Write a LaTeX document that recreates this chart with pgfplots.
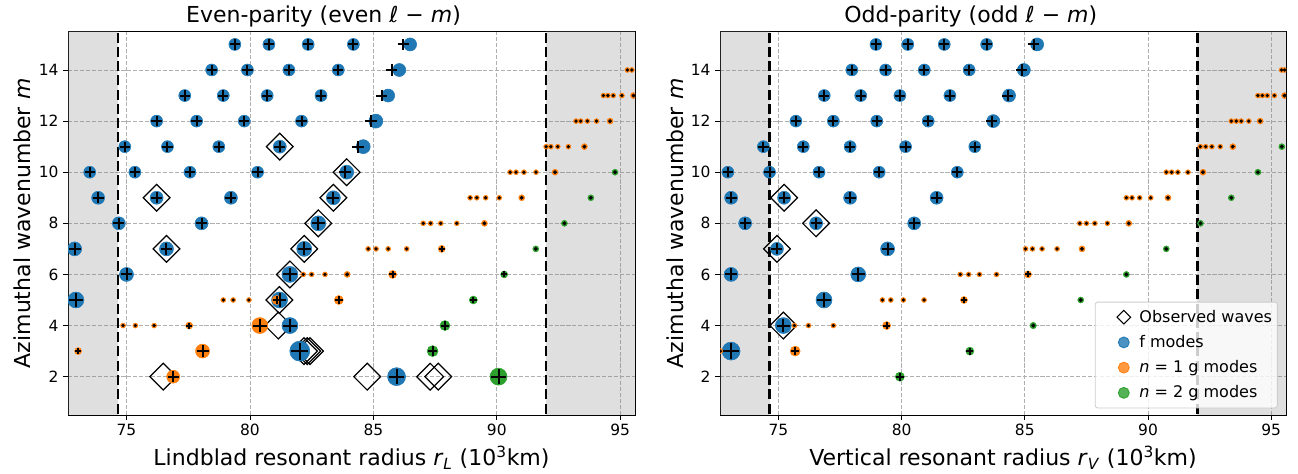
\documentclass[border=0pt]{standalone}
\usepackage{fontspec}
\setmainfont{DejaVu Sans}
\usepackage{pgfplots}
\usepackage{pgfplotstable}
\pgfplotsset{compat=1.18}

\definecolor{fblue}{HTML}{1F77B4}
\definecolor{gorange}{HTML}{FF7F0E}
\definecolor{ggreen}{HTML}{2CA02C}
\definecolor{gridgray}{HTML}{B0B0B0}
\definecolor{legframe}{HTML}{CCCCCC}

% ---------------- Lindblad resonances (even l-m) ----------------
% x: radius (1000 km), y: m, r: marker radius, p: radius of the model cross
\pgfplotstableread{
x y r p
79.39 15 6 79.39
80.77 15 6 80.77
82.36 15 6 82.36
84.19 15 6 84.19
86.49 15 6.5 86.21
78.45 14 6 78.45
79.90 14 6 79.90
81.58 14 6 81.58
83.58 14 6 83.58
86.05 14 6.5 85.74
77.36 13 6 77.36
78.92 13 6 78.92
80.70 13 6 80.70
82.88 13 6 82.88
85.60 13 6.5 85.34
76.22 12 6 76.22
77.84 12 6 77.84
79.77 12 6 79.77
82.09 12 6 82.09
85.10 12 7 84.89
74.93 11 6 74.93
76.66 11 6 76.66
78.74 11 6 78.74
81.21 11 6.5 81.21
84.59 11 7 84.39
73.51 10 6 73.51
75.34 10 6 75.34
77.57 10 6 77.57
80.31 10 6 80.31
83.92 10 7 83.85
73.85 9 6.5 73.85
76.22 9 6.5 76.22
79.23 9 6.5 79.23
83.38 9 7 83.38
74.69 8 6.5 74.69
78.04 8 6.5 78.04
82.77 8 7.5 82.77
72.90 7 7 72.90
76.62 7 7 76.62
82.20 7 7.5 82.20
75.00 6 7 75.00
81.62 6 8 81.62
72.95 5 8 72.95
81.20 5 8 81.20
81.62 4 8 81.62
82.02 3 10 82.02
85.94 2 9 85.94
}\fL

% n=1 g modes, strong (marked with a cross)
\pgfplotstableread{
x y r
87.77 7 3.5
85.78 6 4
81.08 5 4.5
83.60 5 4.5
77.54 4 3.5
80.40 4 8
73.04 3 3.5
78.08 3 7
76.89 2 6.5
}\gaLs

% n=1 g modes, weak (marked with a dot)
\pgfplotstableread{
x y r
95.29 14 2.5
95.47 14 2.5
94.32 13 2.5
94.50 13 2.5
94.72 13 2.5
95.07 13 2.5
95.54 13 3
93.21 12 2.5
93.40 12 2.5
93.67 12 2.5
94.04 12 2.5
94.59 12 3
92.00 11 2.5
92.19 11 2.5
92.47 11 2.5
92.90 11 2.5
93.55 11 3
90.54 10 2.5
90.78 10 2.5
91.10 10 2.5
91.59 10 2.5
92.36 10 3
88.92 9 2.5
89.19 9 2.5
89.55 9 2.5
90.10 9 2.5
91.01 9 3
87.02 8 2.5
87.32 8 2.5
87.73 8 2.5
88.38 8 2.5
89.50 8 3
84.79 7 2.5
85.11 7 2.5
85.60 7 2.5
86.35 7 2.5
82.16 6 2.5
82.50 6 2.5
83.04 6 2.5
83.94 6 3
78.92 5 2.5
79.32 5 2.5
79.96 5 2.5
74.86 4 2.5
75.36 4 2.5
76.12 4 2.5
}\gaLw

\pgfplotstableread{
x y r
90.07 2 8.5
87.40 3 5.5
87.90 4 5
89.05 5 4
90.30 6 3.5
}\gbLs

\pgfplotstableread{
x y r
91.58 7 3
92.74 8 3
93.81 9 3
94.79 10 3
}\gbLw

\pgfplotstableread{
x y
81.21 11
83.92 10
76.22 9
83.38 9
82.77 8
76.62 7
82.20 7
81.62 6
81.19 5
81.15 4
82.19 3
82.32 3
82.43 3
76.49 2
84.75 2
87.30 2
87.63 2
}\obsL

% ---------------- vertical resonances (odd l-m) ----------------
\pgfplotstableread{
x y r p
78.96 15 6 78.96
80.25 15 6 80.25
81.73 15 6 81.73
83.45 15 6 83.45
85.50 15 6.5 85.36
77.98 14 6 77.98
79.35 14 6 79.35
80.92 14 6 80.92
82.74 14 6 82.74
84.96 14 6.5 84.87
76.86 13 6 76.86
78.34 13 6 78.34
79.93 13 6 79.93
81.96 13 6 81.96
84.36 13 6.5 84.30
75.71 12 6 75.71
77.23 12 6 77.23
78.99 12 6 78.99
81.08 12 6 81.08
83.72 12 6.5 83.65
74.39 11 6 74.39
76.01 11 6 76.01
77.91 11 6 77.91
80.16 11 6 80.16
82.97 11 6 82.97
72.95 10 6 72.95
74.64 10 6 74.64
76.65 10 6 76.65
79.09 10 6 79.09
82.26 10 6 82.26
73.08 9 6.5 73.08
75.23 9 6.5 75.23
77.91 9 6.5 77.91
81.42 9 6.5 81.42
73.65 8 6.5 73.65
76.53 8 6.5 76.53
80.51 8 6.5 80.51
74.94 7 6.5 74.94
79.43 7 7 79.43
73.08 6 7 73.08
78.24 6 7.5 78.24
76.85 5 8 76.85
75.20 4 8 75.20
73.08 3 9 73.08
}\fV

\pgfplotstableread{
x y r
85.13 6 3.5
82.53 5 3.5
79.39 4 4
75.68 3 5
}\gaVs

\pgfplotstableread{
x y r
95.42 14 2.5
95.54 14 2.5
94.46 13 2.5
94.64 13 2.5
94.84 13 2.5
95.13 13 2.5
95.54 13 3
93.38 12 2.5
93.58 12 2.5
93.78 12 2.5
94.09 12 2.5
94.55 12 3
92.12 11 2.5
92.34 11 2.5
92.59 11 2.5
92.93 11 2.5
93.44 11 3
90.74 10 2.5
90.96 10 2.5
91.21 10 2.5
91.62 10 2.5
92.23 10 3
89.12 9 2.5
89.35 9 2.5
89.66 9 2.5
90.11 9 2.5
90.81 9 3
87.23 8 2.5
87.50 8 2.5
87.84 8 2.5
88.35 8 2.5
89.22 8 3
85.03 7 2.5
85.31 7 2.5
85.70 7 2.5
86.31 7 2.5
87.32 7 3
82.38 6 2.5
82.72 6 2.5
83.16 6 2.5
83.85 6 2.5
79.22 5 2.5
79.56 5 2.5
80.07 5 2.5
80.91 5 2.5
75.65 4 2.5
76.22 4 2.5
77.23 4 2.5
72.64 3 2.5
}\gaVw

\pgfplotstableread{
x y r
79.93 2 4.5
82.77 3 4
}\gbVs

\pgfplotstableread{
x y r
85.34 4 3.2
87.27 5 3
89.12 6 3
90.74 7 3
92.13 8 3
93.38 9 3
94.46 10 3
95.43 11 3
}\gbVw

\pgfplotstableread{
x y
75.23 9
76.53 8
74.94 7
75.20 4
}\obsV

\pgfplotsset{
  % filled circle whose radius is read from column r
  disc/.style={scatter, only marks, mark=*, forget plot, point meta=y,
    scatter/use mapped color={draw=#1, fill=#1},
    visualization depends on={0.75*\thisrow{r} \as \msz},
    scatter/@pre marker code/.append style={/tikz/mark size=\msz}},
  % black cross scaled with the mode's marker
  cross/.style={scatter, only marks, mark=+, forget plot, point meta=y,
    scatter/use mapped color={draw=black, fill=black},
    mark options={line width=1.5pt},
    visualization depends on={0.64*\thisrow{r} \as \msz},
    scatter/@pre marker code/.append style={/tikz/mark size=\msz}},
  % small black centre for the weakest modes
  dot/.style={scatter, only marks, mark=*, forget plot, point meta=y,
    scatter/use mapped color={draw=black, fill=black},
    visualization depends on={0.41*\thisrow{r} \as \msz},
    scatter/@pre marker code/.append style={/tikz/mark size=\msz}},
  observed/.style={only marks, mark=square, mark size=7.1pt, forget plot,
    mark options={rotate=45, line width=0.9pt, draw=black, solid}},
  span/.style={fill=gray, fill opacity=0.25, draw=none, forget plot},
  limit/.style={black, line width=2pt, dash pattern=on 7.5pt off 3.2pt, forget plot},
  panel/.style={
    scale only axis, height=287.5pt,
    xmin=72.63, xmax=95.6, ymin=0.5, ymax=15.5,
    xtick={75,80,85,90,95}, ytick={2,4,6,8,10,12,14},
    clip marker paths=true,
    grid=major,
    major grid style={draw=gridgray, line width=0.6pt, dash pattern=on 3.1pt off 1.35pt},
    axis line style={line width=0.6pt, black},
    tick align=outside, tick pos=left,
    major tick length=3.6pt,
    every tick/.style={black, line width=0.6pt},
    /pgf/number format/assume math mode=true,
    tick label style={font=\fontsize{11.6}{13.9}\selectfont},
    every axis x label/.style={at={(axis description cs:0.5,-0.133)}, anchor=base,
      font=\fontsize{16.5}{19.8}\selectfont},
    every axis y label/.style={at={(axis description cs:-0.0653,0.5)}, anchor=base, rotate=90,
      font=\fontsize{16.5}{19.8}\selectfont},
  },
  % legend symbol with room on both sides of the mark
  markentry/.style={legend image code/.code={%
    \path[draw=none, fill=none] (-19.5pt,-4pt) rectangle (9.7pt,4pt);
    \draw[##1] plot coordinates {(0pt,0pt)};}},
}

\begin{document}
\begin{tikzpicture}
\path[use as bounding box] (0,0) rectangle (973.5pt,355.5pt);

% ---------------- left panel ----------------
\begin{axis}[panel, at={(51pt,44.25pt)}, anchor=south west, width=425.25pt,
  title={Even-parity (even ℓ − \textit{m})},
  every axis title/.style={at={(axis description cs:0.4506,1.0235)}, anchor=base,
    font=\fontsize{16.5}{19.8}\selectfont},
  xlabel={Lindblad resonant radius \textit{r}\textsubscript{\textit{L}} (10\textsuperscript{3}km)},
  ylabel={Azimuthal wavenumber \textit{m}}]
\addplot[span] coordinates {(70,0) (74.65,0) (74.65,16) (70,16)} -- cycle;
\addplot[span] coordinates {(92.0,0) (98,0) (98,16) (92.0,16)} -- cycle;
\addplot[limit] coordinates {(74.65,0) (74.65,16)};
\addplot[limit] coordinates {(92.0,0) (92.0,16)};
\addplot[observed] table[x=x, y=y] {\obsL};
\addplot[disc=fblue] table[x=x, y=y] {\fL};
\addplot[disc=gorange] table[x=x, y=y] {\gaLw};
\addplot[disc=gorange] table[x=x, y=y] {\gaLs};
\addplot[disc=ggreen] table[x=x, y=y] {\gbLw};
\addplot[disc=ggreen] table[x=x, y=y] {\gbLs};
\addplot[cross] table[x=p, y=y] {\fL};
\addplot[cross] table[x=x, y=y] {\gaLs};
\addplot[cross] table[x=x, y=y] {\gbLs};
\addplot[dot] table[x=x, y=y] {\gaLw};
\addplot[dot] table[x=x, y=y] {\gbLw};
\end{axis}

% ---------------- right panel ----------------
\begin{axis}[panel, at={(540pt,44.25pt)}, anchor=south west, width=424.5pt,
  title={Odd-parity (odd ℓ − \textit{m})},
  every axis title/.style={at={(axis description cs:0.443,1.0235)}, anchor=base,
    font=\fontsize{16.5}{19.8}\selectfont},
  xlabel={Vertical resonant radius \textit{r}\textsubscript{\textit{V}} (10\textsuperscript{3}km)},
  ylabel={Azimuthal wavenumber \textit{m}},
  legend cell align=left,
  legend style={at={(axis description cs:1,0)}, anchor=south east, xshift=-6.2pt, yshift=5pt,
    draw=legframe, line width=0.6pt, fill=white, fill opacity=0.8, text opacity=1,
    draw opacity=1, rounded corners=2pt, font=\fontsize{12}{14.4}\selectfont,
    inner xsep=2pt, inner ysep=4pt, nodes={inner sep=2pt}, row sep=4.3pt}]
\addplot[span] coordinates {(70,0) (74.65,0) (74.65,16) (70,16)} -- cycle;
\addplot[span] coordinates {(92.0,0) (98,0) (98,16) (92.0,16)} -- cycle;
\addplot[limit] coordinates {(74.65,0) (74.65,16)};
\addplot[limit] coordinates {(92.0,0) (92.0,16)};
\addplot[observed] table[x=x, y=y] {\obsV};
\addplot[disc=fblue] table[x=x, y=y] {\fV};
\addplot[disc=gorange] table[x=x, y=y] {\gaVw};
\addplot[disc=gorange] table[x=x, y=y] {\gaVs};
\addplot[disc=ggreen] table[x=x, y=y] {\gbVw};
\addplot[disc=ggreen] table[x=x, y=y] {\gbVs};
\addplot[cross] table[x=p, y=y] {\fV};
\addplot[cross] table[x=x, y=y] {\gaVs};
\addplot[cross] table[x=x, y=y] {\gbVs};
\addplot[dot] table[x=x, y=y] {\gaVw};
\addplot[dot] table[x=x, y=y] {\gbVw};
\addlegendimage{markentry, only marks, mark=square, mark size=3.6pt, mark options={rotate=45, line width=0.8pt, draw=black, fill=none}}
\addlegendentry{Observed waves}
\addlegendimage{markentry, only marks, mark=*, mark size=4.1pt, fblue}
\addlegendentry{f modes}
\addlegendimage{markentry, only marks, mark=*, mark size=4.1pt, gorange}
\addlegendentry{\textit{n} = 1 g modes}
\addlegendimage{markentry, only marks, mark=*, mark size=4.1pt, ggreen}
\addlegendentry{\textit{n} = 2 g modes}
\end{axis}
\end{tikzpicture}
\end{document}
